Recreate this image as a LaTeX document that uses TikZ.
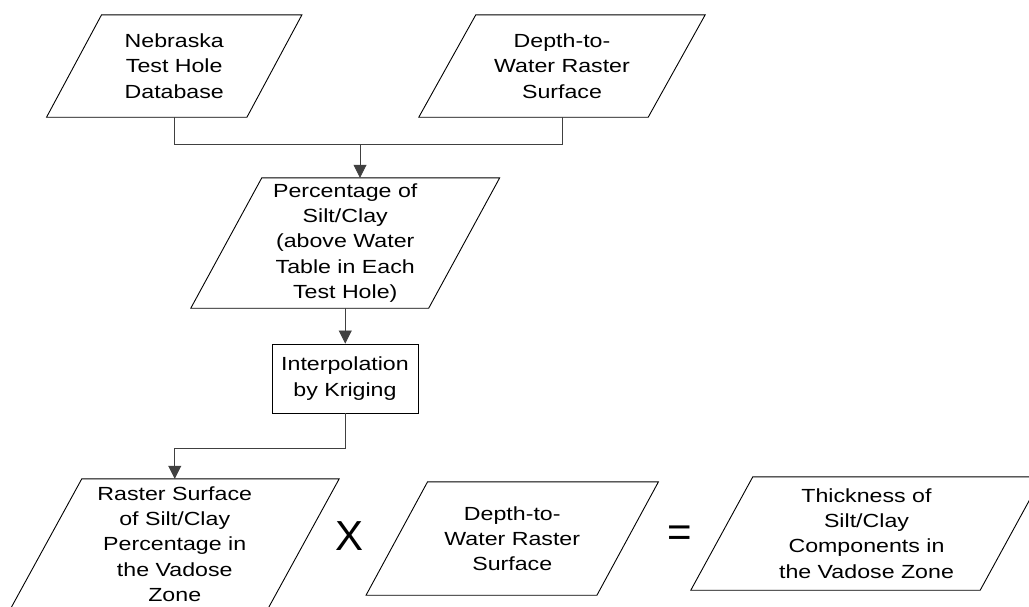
\documentclass[tikz,border=0pt]{standalone}
\usepackage{fontspec}
\setmainfont{Liberation Sans}
\newfontfamily\boxfont{Liberation Sans}[FakeStretch=1.22]
\usetikzlibrary{arrows.meta}

\tikzset{
  textbox/.style={rectangle, draw=none, inner sep=0pt, align=center,
    font=\boxfont\fontsize{19}{25.3}\selectfont, text=black},
  rectbox/.style={textbox, draw=black, line width=0.9pt},
  outline/.style={draw=black, line width=0.9pt, line join=miter},
  conn/.style={draw=black!75, line width=0.8pt},
  arrowconn/.style={conn, -{Triangle[width=13pt,length=13pt]}},
  opsign/.style={inner sep=0pt, anchor=base, font=\fontsize{42}{42}\selectfont}
}

\newcommand{\drawpara}[2]{%
  \draw[outline] ([xshift=#2]#1.north west) -- ([xshift=#2]#1.north east)
    -- ([xshift=-#2]#1.south east) -- ([xshift=-#2]#1.south west) -- cycle;}

\begin{document}
\begin{tikzpicture}[x=1pt, y=-1pt]
  \fill[white] (0,0) rectangle (1029,606);
  \useasboundingbox (0,0) rectangle (1029,606);

  % top row
  \node[textbox, minimum width=200pt, minimum height=102pt] (neb) at (174.25,66)
    {Nebraska\\Test Hole\\Database};
  \drawpara{neb}{27.5pt}

  \node[textbox, minimum width=229pt, minimum height=102pt] (dep1) at (562,66)
    {Depth-to-\\Water Raster\\Surface};
  \drawpara{dep1}{28.5pt}

  % percentage
  \node[textbox, minimum width=237.5pt, minimum height=130pt] (perc) at (345.25,243)
    {Percentage of\\Silt/Clay\\(above Water\\Table in Each\\Test Hole)};
  \drawpara{perc}{35.5pt}

  % interpolation
  \node[rectbox, minimum width=146pt, minimum height=69pt] (interp) at (345,378.5)
    {Interpolation\\by Kriging};

  % bottom row
  \node[textbox, minimum width=257pt, minimum height=130pt] (raster) at (174.75,544)
    {Raster Surface\\of Silt/Clay\\Percentage in\\the Vadose\\Zone};
  \drawpara{raster}{35.75pt}

  \node[opsign] (times) at (350,550) {X};

  \node[textbox, minimum width=230.5pt, minimum height=113pt] (dep2) at (512.25,538.5)
    {Depth-to-\\Water Raster\\Surface};
  \drawpara{dep2}{30.75pt}

  \node[opsign] (equals) at (680,546.5) {=};

  \node[textbox, minimum width=289pt, minimum height=113pt] (thick) at (866.5,533.5)
    {Thickness of\\Silt/Clay\\Components in\\the Vadose Zone};
  \drawpara{thick}{31pt}

  % connectors
  \coordinate (j1) at (360,144);
  \draw[conn] (neb.south) |- (dep1.south |- j1) -- (dep1.south);
  \draw[arrowconn] (j1) -- (j1 |- perc.north);
  \draw[arrowconn] (perc.south) -- (perc.south |- interp.north);
  \draw[arrowconn] (interp.south) -- ++(0,35) -| (raster.north);
\end{tikzpicture}
\end{document}
